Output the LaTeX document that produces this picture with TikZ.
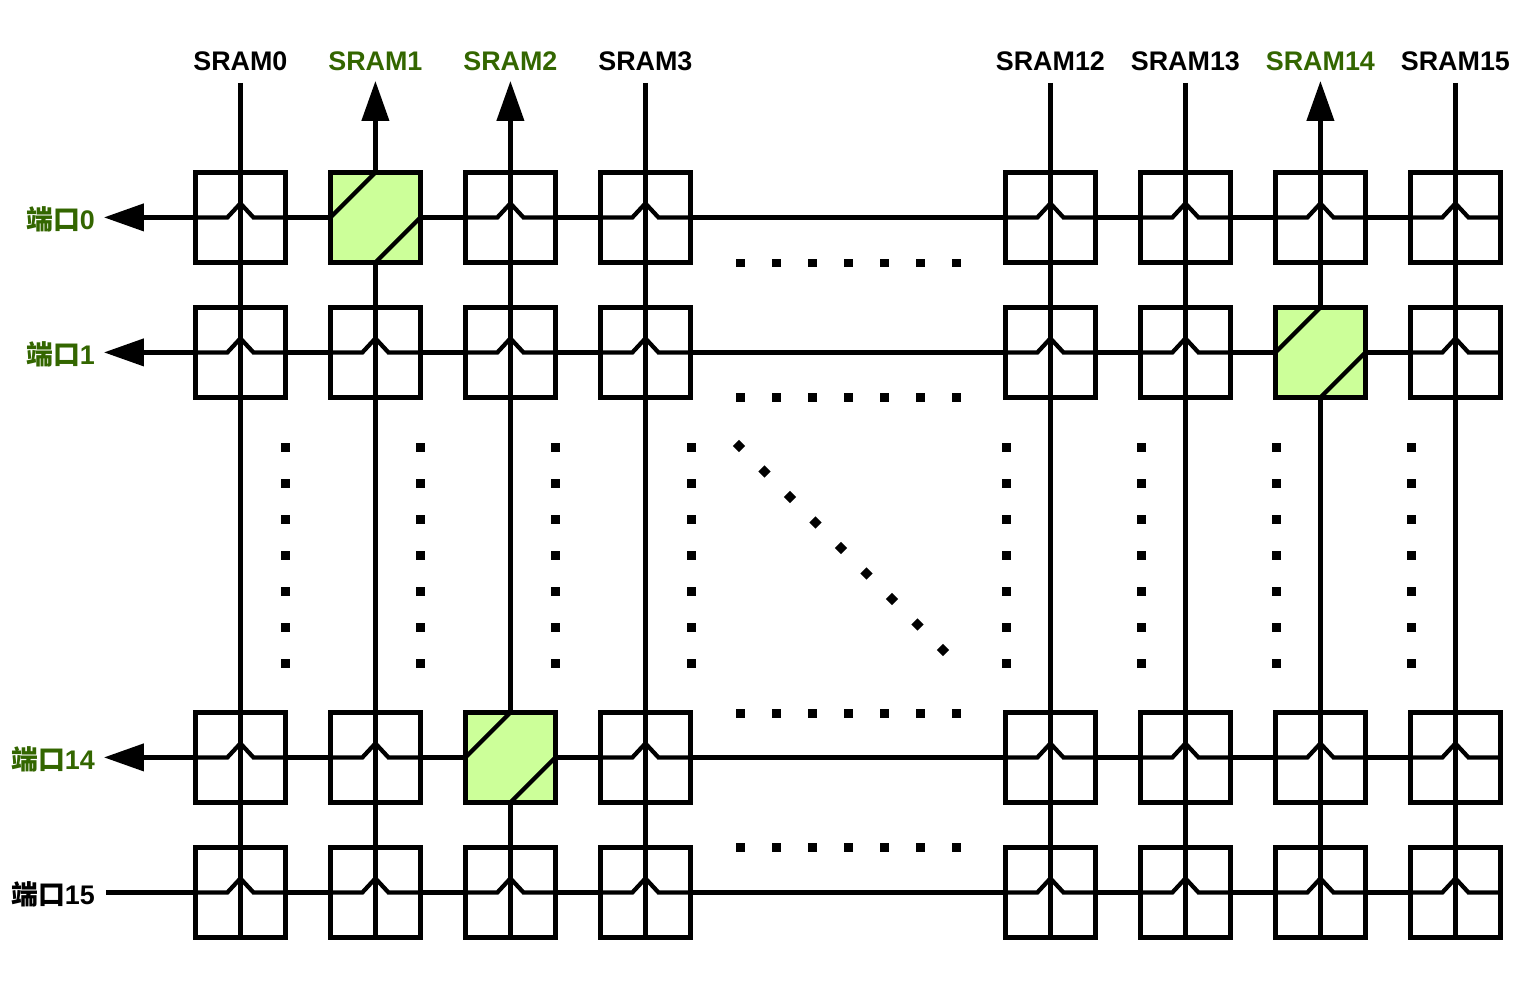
\documentclass[tikz,border=0pt]{standalone}
\usepackage{fontspec}
\setmainfont{Liberation Sans}
\newfontfamily\cjk{Noto Sans CJK SC}
\usetikzlibrary{shapes.geometric, arrows.meta}
\definecolor{activegreen}{HTML}{CCFF99}
\definecolor{labelgreen}{HTML}{336600}

\begin{document}
\begin{tikzpicture}[x=0.02cm, y=-0.02cm, line width=0.085cm]
    \tikzstyle{cell} = [rectangle, minimum size=1.8cm, inner sep=0pt, outer sep=0pt, draw=black]
    \tikzstyle{active} = [cell, fill=activegreen]
    \tikzstyle{squaredot} = [rectangle, minimum size=0.18cm, inner sep=0pt, fill=black]
    \tikzstyle{diamonddot} = [diamond, minimum size=0.28cm, inner sep=0pt, fill=black]
    \tikzstyle{arrow} = [{Triangle[length=0.8cm, width=0.54cm]}-, shorten <=-0.04cm]
    \tikzstyle{title} = [font=\bfseries\fontsize{15.3}{18}\selectfont, inner sep=0pt]
    \useasboundingbox (0,0) rectangle (1537,1000);
    % crosspoints, one row at a time (\act = column that is connected)
    \foreach \cy/\row/\act in {217.4/0/1, 352.4/1/14, 757.4/14/2, 892.4/15/-1} {
        \foreach \cx/\col in {240.4/0, 375.4/1, 510.4/2, 645.4/3, 1050.4/12, 1185.4/13, 1320.4/14, 1455.4/15} {
            \ifnum\col=\act
                \node (cell-\col-\row) [active] at (\cx,\cy) {};
                \draw (cell-\col-\row.west) -- (cell-\col-\row.north);
                \draw (cell-\col-\row.south) -- (cell-\col-\row.east);
            \else
                \node (cell-\col-\row) [cell] at (\cx,\cy) {};
                \draw (cell-\col-\row.north) -- (cell-\col-\row.south);
                \draw (cell-\col-\row.west) -- ++(32,0) -- ++(13,-14) -- ++(13,14) -- (cell-\col-\row.east);
            \fi
        }
        \foreach \a/\b in {0/1, 1/2, 2/3, 3/12, 12/13, 13/14, 14/15}
            \draw (cell-\a-\row.east) -- (cell-\b-\row.west);
    }
    % memories along the top
    \foreach \cx/\col/\clr/\tip in {240.4/0/black/, 375.4/1/labelgreen/arrow, 510.4/2/labelgreen/arrow, 645.4/3/black/, 1050.4/12/black/, 1185.4/13/black/, 1320.4/14/labelgreen/arrow, 1455.4/15/black/} {
        \node (sram\col) [title, text=\clr] at (\cx,61) {SRAM\col};
        \coordinate (top\col) at (\cx,83);
        \draw [\tip] (top\col) -- (cell-\col-0.north);
        \foreach \a/\b in {0/1, 1/14, 14/15}
            \draw (cell-\col-\a.south) -- (cell-\col-\b.north);
    }
    % ports on the left
    \foreach \cy/\row/\clr/\tip in {217.4/0/labelgreen/arrow, 352.4/1/labelgreen/arrow, 757.4/14/labelgreen/arrow, 892.4/15/black/} {
        \node (port\row) [title, text=\clr, anchor=east] at (97,\cy+2) {{\cjk\bfseries 端口}\row};
        \coordinate (left\row) at (106,\cy);
        \draw [\tip] (left\row) -- (cell-0-\row.west);
    }
    % dots between the rows and columns
    \foreach \dy in {263, 397, 713, 847}
        \foreach \dx in {740.7, 776.7, 812.7, 848.7, 884.7, 920.7, 956.7}
            \node (h-\dx-\dy) [squaredot] at (\dx,\dy) {};
    \foreach \dx in {285, 420, 555, 691, 1006, 1141, 1276, 1411}
        \foreach \dy in {447.7, 483.7, 519.7, 555.7, 591.7, 627.7, 663.7}
            \node (v-\dx-\dy) [squaredot] at (\dx,\dy) {};
    \foreach \i in {0,...,8}
        \node (d-\i) [diamonddot] at (739+25.5*\i,446+25.5*\i) {};
\end{tikzpicture}
\end{document}
